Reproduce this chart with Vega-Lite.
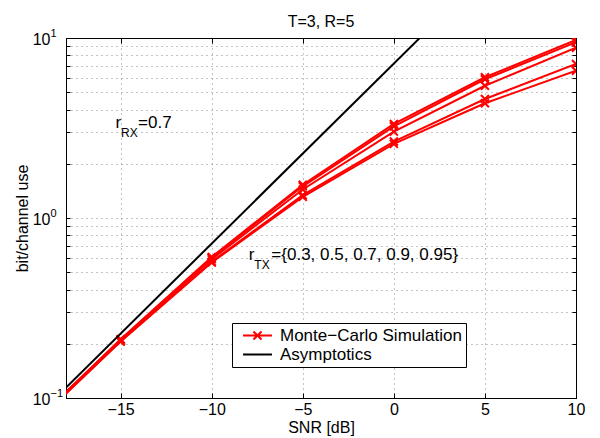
{
  "$schema": "https://vega.github.io/schema/vega-lite/v6.json",
  "width": 510,
  "height": 360,
  "autosize": {"type": "none"},
  "padding": {"left": 66, "top": 38, "right": 24, "bottom": 40},
  "background": "white",
  "title": {"text": "T=3, R=5", "font": "Liberation Sans", "fontSize": 16, "fontWeight": "normal", "color": "black", "offset": 4, "dy": 6},
  "config": {
    "view": {"stroke": "black", "strokeWidth": 1},
    "font": "Liberation Sans",
    "legend": {
      "orient": "none", "legendX": 166, "legendY": 285, "title": null,
      "labelFont": "Liberation Sans", "labelFontSize": 17, "labelColor": "black", "labelLimit": 400,
      "strokeColor": "black", "fillColor": "white", "padding": 4, "rowPadding": 1,
      "symbolSize": 93, "symbolStrokeWidth": 2, "symbolOffset": 13, "labelOffset": 14,
      "symbolOpacity": 1, "cornerRadius": 0, "strokeWidth": 1
    }
  },
  "datasets": {
    "mc": [
      {"snr": -20, "rate": 0.069, "rtx": 0.3}, {"snr": -15, "rate": 0.212, "rtx": 0.3}, {"snr": -10, "rate": 0.607, "rtx": 0.3}, {"snr": -5, "rate": 1.53, "rtx": 0.3}, {"snr": 0, "rate": 3.33, "rtx": 0.3}, {"snr": 5, "rate": 6.05, "rtx": 0.3}, {"snr": 10, "rate": 9.75, "rtx": 0.3},
      {"snr": -20, "rate": 0.0688, "rtx": 0.5}, {"snr": -15, "rate": 0.211, "rtx": 0.5}, {"snr": -10, "rate": 0.602, "rtx": 0.5}, {"snr": -5, "rate": 1.5, "rtx": 0.5}, {"snr": 0, "rate": 3.23, "rtx": 0.5}, {"snr": 5, "rate": 5.9, "rtx": 0.5}, {"snr": 10, "rate": 9.47, "rtx": 0.5},
      {"snr": -20, "rate": 0.0685, "rtx": 0.7}, {"snr": -15, "rate": 0.209, "rtx": 0.7}, {"snr": -10, "rate": 0.59, "rtx": 0.7}, {"snr": -5, "rate": 1.44, "rtx": 0.7}, {"snr": 0, "rate": 3.02, "rtx": 0.7}, {"snr": 5, "rate": 5.43, "rtx": 0.7}, {"snr": 10, "rate": 8.83, "rtx": 0.7},
      {"snr": -20, "rate": 0.068, "rtx": 0.9}, {"snr": -15, "rate": 0.207, "rtx": 0.9}, {"snr": -10, "rate": 0.572, "rtx": 0.9}, {"snr": -5, "rate": 1.34, "rtx": 0.9}, {"snr": 0, "rate": 2.66, "rtx": 0.9}, {"snr": 5, "rate": 4.58, "rtx": 0.9}, {"snr": 10, "rate": 7.17, "rtx": 0.9},
      {"snr": -20, "rate": 0.0678, "rtx": 0.95}, {"snr": -15, "rate": 0.206, "rtx": 0.95}, {"snr": -10, "rate": 0.566, "rtx": 0.95}, {"snr": -5, "rate": 1.31, "rtx": 0.95}, {"snr": 0, "rate": 2.58, "rtx": 0.95}, {"snr": 5, "rate": 4.34, "rtx": 0.95}, {"snr": 10, "rate": 6.58, "rtx": 0.95}
    ],
    "asym": [
      {"snr": -20, "rate": 0.0721},
      {"snr": 2, "rate": 11.43}
    ],
    "keys": [
      {"kind": "Monte−Carlo Simulation"},
      {"kind": "Asymptotics"}
    ],
    "ann": [
      {"snr": -15.28, "rate": 3.37, "main": "r", "sub": "RX", "rest": "=0.7"},
      {"snr": -7.96, "rate": 0.623, "main": "r", "sub": "TX", "rest": "={0.3, 0.5, 0.7, 0.9, 0.95}"}
    ],
    "ylab": [
      {"rate": 0.1, "base": "10", "exp": "−1"},
      {"rate": 1, "base": "10", "exp": "0"},
      {"rate": 10, "base": "10", "exp": "1"}
    ]
  },
  "resolve": {"axis": {"x": "independent", "y": "independent"}},
  "layer": [
    {
      "data": {"name": "mc"},
      "mark": {"type": "line", "color": "#ff0000", "strokeWidth": 2, "clip": true},
      "encoding": {
        "x": {"field": "snr", "type": "quantitative",
          "scale": {"domain": [-18, 10], "nice": false, "zero": false},
          "axis": {"orient": "bottom", "values": [-15, -10, -5, 0, 5, 10], "grid": true,
            "gridColor": "#888888", "gridDash": [1, 4], "gridWidth": 1,
            "tickSize": -5, "tickColor": "black", "domainColor": "black",
            "labelFont": "Liberation Sans", "labelFontSize": 16, "labelColor": "black", "labelPadding": 8, "labelFlush": false,
            "labelExpr": "replace(datum.label, '-', '−')",
            "title": "SNR [dB]", "titleFont": "Liberation Sans", "titleFontSize": 16, "titleFontWeight": "normal", "titleColor": "black", "titlePadding": 2}},
        "y": {"field": "rate", "type": "quantitative",
          "scale": {"type": "log", "domain": [0.1, 10], "nice": false},
          "axis": {"orient": "left", "values": [0.1, 0.2, 0.3, 0.4, 0.5, 0.6, 0.7, 0.8, 0.9, 1, 2, 3, 4, 5, 6, 7, 8, 9, 10],
            "grid": true, "gridColor": "#888888", "gridDash": [1, 4], "gridWidth": 1,
            "labels": false, "tickSize": -4, "tickColor": "black", "domainColor": "black",
            "title": "bit/channel use", "titleFont": "Liberation Sans", "titleFontSize": 16, "titleFontWeight": "normal", "titleColor": "black", "titlePadding": 35}},
        "detail": {"field": "rtx"}
      }
    },
    {
      "data": {"name": "mc"},
      "mark": {"type": "point", "shape": "M-1,-1L1,1M-1,1L1,-1", "size": 64, "filled": false, "color": "#ff0000", "strokeWidth": 2, "opacity": 1, "clip": true},
      "encoding": {
        "x": {"field": "snr", "type": "quantitative",
          "axis": {"orient": "top", "values": [-15, -10, -5, 0, 5, 10], "grid": false, "labels": false, "title": null,
            "tickSize": -5, "tickColor": "black", "domainColor": "black"}},
        "y": {"field": "rate", "type": "quantitative",
          "axis": {"orient": "right", "values": [0.1, 0.2, 0.3, 0.4, 0.5, 0.6, 0.7, 0.8, 0.9, 1, 2, 3, 4, 5, 6, 7, 8, 9, 10],
            "grid": false, "labels": false, "title": null, "tickSize": -4, "tickColor": "black", "domainColor": "black"}}
      }
    },
    {
      "data": {"name": "asym"},
      "mark": {"type": "line", "color": "black", "strokeWidth": 2, "clip": true},
      "encoding": {
        "x": {"field": "snr", "type": "quantitative", "axis": null},
        "y": {"field": "rate", "type": "quantitative", "axis": null}
      }
    },
    {
      "data": {"name": "keys"},
      "mark": {"type": "point", "filled": false, "opacity": 0, "strokeWidth": 2},
      "encoding": {
        "color": {"field": "kind", "type": "nominal",
          "scale": {"domain": ["Monte−Carlo Simulation", "Asymptotics"], "range": ["#ff0000", "black"]}},
        "shape": {"field": "kind", "type": "nominal",
          "scale": {"domain": ["Monte−Carlo Simulation", "Asymptotics"],
            "range": ["M-3,0L3,0M-0.84,-0.84L0.84,0.84M-0.84,0.84L0.84,-0.84", "M-3,0L3,0"]}}
      }
    },
    {
      "data": {"name": "ann"},
      "mark": {"type": "text", "align": "left", "baseline": "middle", "font": "Liberation Sans", "fontSize": 17, "color": "black"},
      "encoding": {
        "x": {"field": "snr", "type": "quantitative", "axis": null},
        "y": {"field": "rate", "type": "quantitative", "axis": null},
        "text": {"field": "main"}
      }
    },
    {
      "data": {"name": "ann"},
      "mark": {"type": "text", "align": "left", "baseline": "middle", "font": "Liberation Sans", "fontSize": 12, "color": "black", "dx": 5.5, "dy": 10},
      "encoding": {
        "x": {"field": "snr", "type": "quantitative", "axis": null},
        "y": {"field": "rate", "type": "quantitative", "axis": null},
        "text": {"field": "sub"}
      }
    },
    {
      "data": {"name": "ann"},
      "mark": {"type": "text", "align": "left", "baseline": "middle", "font": "Liberation Sans", "fontSize": 17, "color": "black", "dx": 22.5},
      "encoding": {
        "x": {"field": "snr", "type": "quantitative", "axis": null},
        "y": {"field": "rate", "type": "quantitative", "axis": null},
        "text": {"field": "rest"}
      }
    },
    {
      "data": {"name": "ylab"},
      "mark": {"type": "text", "align": "right", "baseline": "middle", "font": "Liberation Sans", "fontSize": 16, "color": "black", "dx": -15.5, "dy": 1.5},
      "encoding": {
        "x": {"datum": -18, "type": "quantitative", "axis": null},
        "y": {"field": "rate", "type": "quantitative", "axis": null},
        "text": {"field": "base"}
      }
    },
    {
      "data": {"name": "ylab"},
      "mark": {"type": "text", "align": "left", "baseline": "middle", "font": "Liberation Sans", "fontSize": 11, "color": "black", "dx": -15.5, "dy": -4.5},
      "encoding": {
        "x": {"datum": -18, "type": "quantitative", "axis": null},
        "y": {"field": "rate", "type": "quantitative", "axis": null},
        "text": {"field": "exp"}
      }
    }
  ]
}
